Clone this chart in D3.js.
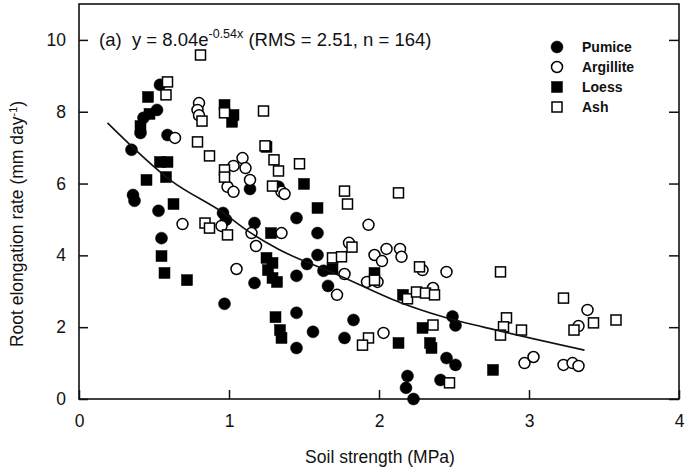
<!DOCTYPE html>
<html><head><meta charset="utf-8">
<script src="https://cdn.jsdelivr.net/npm/d3@7"></script>
<style>body{margin:0;background:#fff}svg{display:block}text{font-family:"Liberation Sans",Arial,sans-serif;fill:#111}</style>
</head><body>
<script>
// ---- data ----
const pumice = [[0.54,8.75],[0.52,8.05],[0.43,7.83],[0.41,7.41],[0.59,7.35],[0.35,6.94],[0.36,5.68],[0.37,5.52],[0.53,5.24],
 [0.96,5.18],[0.98,4.99],[1.14,5.85],[1.33,5.91],[1.45,5.04],[1.17,4.90],[0.55,4.48],[1.59,4.62],[1.59,4.01],[1.52,3.76],
 [1.17,3.23],[1.45,3.43],[1.63,3.57],[1.66,3.15],[1.45,2.40],[1.56,1.87],[1.45,1.42],[1.83,2.20],[1.77,1.70],[0.97,2.65],
 [2.49,2.30],[2.51,2.05],[2.45,1.14],[2.51,0.95],[2.19,0.64],[2.18,0.31],[2.23,0.0],[2.41,0.53]];
const argillite = [[0.64,7.27],[0.80,8.24],[0.79,8.05],[0.80,7.90],[1.09,6.71],[1.03,6.49],[1.11,6.43],[0.99,5.91],[1.03,5.77],
 [1.14,6.10],[1.35,5.77],[1.37,5.71],[0.69,4.87],[0.95,4.82],[1.15,4.62],[1.18,4.26],[1.35,4.62],[1.05,3.62],[1.80,4.35],
 [1.93,4.85],[1.97,4.01],[2.05,4.18],[2.02,3.84],[2.14,4.18],[2.15,3.96],[1.77,3.48],[1.72,2.90],[1.92,3.26],[1.99,3.26],
 [2.29,3.59],[2.36,3.09],[2.45,3.54],[2.03,1.84],[2.97,1.00],[3.03,1.17],[3.23,0.95],[3.29,1.00],[3.33,0.92],[3.39,2.48],[3.33,2.03]];
const loess = [[0.46,8.41],[0.47,7.94],[0.41,7.60],[0.97,8.19],[1.03,7.91],[1.02,7.72],[0.54,6.60],[0.59,6.60],[0.45,6.10],
 [0.58,6.18],[0.63,5.43],[0.55,3.98],[0.57,3.51],[0.72,3.31],[1.25,7.02],[1.50,5.99],[1.59,5.32],[1.28,4.62],[1.25,3.93],
 [1.29,3.79],[1.26,3.59],[1.29,3.37],[1.32,3.26],[1.31,2.28],[1.34,1.92],[1.35,1.70],[2.13,1.56],[1.97,3.51],[2.16,2.90],
 [2.29,1.98],[2.34,1.56],[2.35,1.42],[2.76,0.81],[1.69,3.62]];
const ash = [[0.81,9.58],[0.59,8.83],[0.58,8.47],[0.82,7.74],[0.97,7.97],[0.79,7.16],[0.87,6.77],[1.23,8.02],[1.24,7.05],
 [1.30,6.66],[1.33,6.35],[1.47,6.55],[0.97,6.38],[0.97,6.18],[1.29,5.93],[1.77,5.79],[1.79,5.43],[2.13,5.74],[0.84,4.90],
 [0.87,4.76],[0.99,4.57],[1.82,4.23],[1.69,3.93],[1.75,3.96],[1.97,3.31],[2.27,3.68],[2.19,2.79],[2.25,2.98],[2.31,2.95],
 [2.37,2.90],[2.36,2.06],[2.81,3.54],[2.85,2.26],[2.83,2.01],[2.81,1.78],[2.95,1.92],[3.23,2.81],[3.30,1.92],[3.43,2.12],
 [3.58,2.20],[1.93,1.70],[1.89,1.50],[2.47,0.45]];
// fitted curve, points
const fitCurve = [[0.19,7.69],[0.62,6.06],[0.96,5.19],[1.14,4.64],[1.33,4.17],[1.72,3.47],[2.14,2.69],[2.41,2.31],[2.81,1.89],[3.37,1.36]];
const xTicks = [0,1,2,3,4];
const yTicks = [0,2,4,6,8,10];
const seriesNames = ["Pumice","Argillite","Loess","Ash"];

// ---- drawing ----
const W=685,H=475;
const svg=d3.select("body").append("svg").attr("width",W).attr("height",H);
const x=d3.scaleLinear().domain([0,4]).range([79,679]);
const y=d3.scaleLinear().domain([0,11]).range([399,4]);

// frame
svg.append("rect").attr("x",x(0)).attr("y",y(11)).attr("width",x(4)-x(0)).attr("height",y(0)-y(11))
  .attr("fill","none").attr("stroke","#111").attr("stroke-width",1.6);

const gx=svg.append("g").attr("transform",`translate(0,${y(0)})`)
  .call(d3.axisBottom(x).tickValues(xTicks).tickSize(-9).tickPadding(16).tickFormat(d3.format("d")));
const gy=svg.append("g").attr("transform",`translate(${x(0)},0)`)
  .call(d3.axisLeft(y).tickValues(yTicks).tickSize(-9).tickPadding(13).tickFormat(d3.format("d")));
const gr=svg.append("g").attr("transform",`translate(${x(4)},0)`)
  .call(d3.axisRight(y).tickValues(yTicks).tickSize(-10).tickFormat(""));
[gx,gy,gr].forEach(g=>{g.select(".domain").remove();g.selectAll("line").attr("stroke","#111").attr("stroke-width",1.5);
  g.selectAll("text").style("font-size","17.5px").style("font-family","Liberation Sans, Arial, sans-serif").attr("fill","#111");});

const sym={
  circle:(g,d,filled)=>g.append("circle").attr("cx",x(d[0])).attr("cy",y(d[1])).attr("r",filled?6:5.5)
     .attr("fill",filled?"#000":"#fff").attr("stroke","#000").attr("stroke-width",filled?0.5:1.5),
  square:(g,d,filled)=>{const s=filled?11:10;return g.append("rect").attr("x",x(d[0])-s/2).attr("y",y(d[1])-s/2).attr("width",s).attr("height",s)
     .attr("fill",filled?"#000":"#fff").attr("stroke","#000").attr("stroke-width",filled?0.5:1.5);}
};
const gp=svg.append("g");
pumice.forEach(d=>sym.circle(gp,d,true));
loess.forEach(d=>sym.square(gp,d,true));
argillite.forEach(d=>sym.circle(gp,d,false));
ash.forEach(d=>sym.square(gp,d,false));

svg.append("path").datum(fitCurve).attr("fill","none").attr("stroke","#111").attr("stroke-width",1.6)
  .attr("d",d3.line().x(d=>x(d[0])).y(d=>y(d[1])).curve(d3.curveMonotoneX));

// legend
const leg=[["circle",true],["circle",false],["square",true],["square",false]];
leg.forEach((l,i)=>{
  const cy=47+i*20;
  const px=x.invert(557), py=y.invert(cy);
  sym[l[0]](svg,[px,py],l[1]);
  svg.append("text").attr("x",582).attr("y",cy+5).style("font-size","14px").style("font-weight","bold").text(seriesNames[i]);
});

// annotation
const t=svg.append("text").attr("x",99).attr("y",46).style("font-size","18.5px").style("white-space","pre");
t.append("tspan").text("(a)\u00a0\u00a0y = 8.04e");
t.append("tspan").attr("dy",-8).style("font-size","12.5px").text("-0.54x");
t.append("tspan").attr("dy",8).text(" (RMS = 2.51, n = 164)");

// axis titles
svg.append("text").attr("x",380).attr("y",463).attr("text-anchor","middle").style("font-size","17.5px").text("Soil strength (MPa)");
const yt=svg.append("text").attr("transform","translate(23,224) rotate(-90)").attr("text-anchor","middle").style("font-size","17.5px");
yt.append("tspan").text("Root elongation rate (mm day");
yt.append("tspan").attr("dy",-6).style("font-size","11px").text("-1");
yt.append("tspan").attr("dy",6).text(")");
</script>
</body></html>
